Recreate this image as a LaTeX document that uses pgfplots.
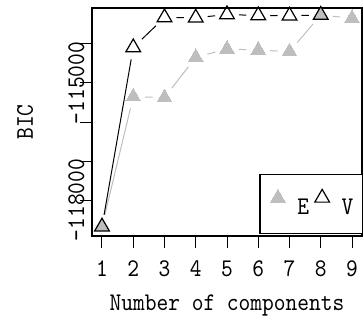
\documentclass[border=0pt]{standalone}
\usepackage{fontspec}
\newfontfamily\chartfont{lmmono10-regular.otf}[FakeStretch=0.88]
\usepackage{pgfplots}
\pgfplotsset{compat=1.18}
\usepackage{pgfplotstable}
\definecolor{Egray}{RGB}{190,190,190}
\pgfplotstableread{
x y
1 -118685
2 -115351
3 -115372
4 -114341
5 -114128
6 -114154
7 -114197
8 -113256
9 -113341
}\Edata
\pgfplotstableread{
x y
1 -118685
2 -114090
3 -113321
4 -113328
5 -113244
6 -113269
7 -113277
8 -113256
}\Vdata
% segments (x, y, dx, dy) joining consecutive points
\pgfplotstableread{
x y u v
1 -118685 1 3334
2 -115351 1 -21
3 -115372 1 1031
4 -114341 1 213
5 -114128 1 -26
6 -114154 1 -43
7 -114197 1 941
8 -113256 1 -85
}\Eseg
\pgfplotstableread{
x y u v
1 -118685 1 4595
2 -114090 1 769
3 -113321 1 -7
4 -113328 1 84
5 -113244 1 -25
6 -113269 1 -8
7 -113277 1 21
}\Vseg
\begin{document}
\begin{tikzpicture}
\useasboundingbox (-92pt,-86pt) rectangle (272pt,236pt);
\begin{axis}[
  at={(0,0)}, anchor=south west,
  scale only axis, width=270pt, height=228pt,
  xmin=0.68, xmax=9.32, ymin=-118923, ymax=-113077,
  axis line style={line width=1.2pt},
  font=\chartfont\fontsize{25.4}{28}\selectfont,
  tick label style={font=\chartfont\fontsize{25.4}{28}\selectfont},
  label style={font=\chartfont\fontsize{25.4}{28}\selectfont},
  xtick={1,...,9},
  ytick={-118000,-117000,-116000,-115000,-114000},
  yticklabels={-118000,{},{},-115000,{}},
  scaled y ticks=false,
  /pgf/number format/assume math mode=true,
  tick align=outside, major tick length=12pt,
  tick style={line width=1pt, black},
  xtick pos=left, ytick pos=left,
  xticklabel style={anchor=north, yshift=-9pt},
  yticklabel style={rotate=90, anchor=south, yshift=-8pt},
  xlabel={Number of components},
  every axis x label/.style={at={(axis description cs:0.5,-0.3246)}, anchor=base},
  ylabel={BIC},
  every axis y label/.style={at={(axis description cs:-0.248,0.5)}, rotate=90, anchor=center},
  legend columns=2,
  legend image code/.code={\path[draw=none] (0pt,0pt) rectangle (22pt,1pt); \draw[#1] plot coordinates {(11pt,10pt)};},
  legend style={at={(1,0)}, anchor=south east, xshift=1pt, yshift=2pt,
    draw=black, line width=1.2pt, inner xsep=7pt, inner ysep=15pt,
    font=\chartfont\fontsize{25.4}{28}\selectfont,
    /tikz/every odd column/.append style={column sep=6.5pt},
    /tikz/every even column/.append style={column sep=0pt}},
]
\addplot[Egray, line width=1pt, forget plot, quiver={u=\thisrow{u}, v=\thisrow{v},
  every arrow/.append style={shorten >=12pt, shorten <=12pt}}] table[x=x,y=y] {\Eseg};
\addplot[black, line width=1pt, forget plot, quiver={u=\thisrow{u}, v=\thisrow{v},
  every arrow/.append style={shorten >=12pt, shorten <=12pt}}] table[x=x,y=y] {\Vseg};
\addplot[Egray, only marks, mark=triangle*, mark size=8.5pt,
  mark options={fill=Egray, draw=Egray, line width=0pt}] table[x=x,y=y] {\Edata};
\addlegendentry{E}
\addplot[black, only marks, mark=triangle, mark size=8.5pt,
  mark options={draw=black, line width=1.2pt, fill=none}] table[x=x,y=y] {\Vdata};
\addlegendentry{V}
\end{axis}
\end{tikzpicture}
\end{document}
